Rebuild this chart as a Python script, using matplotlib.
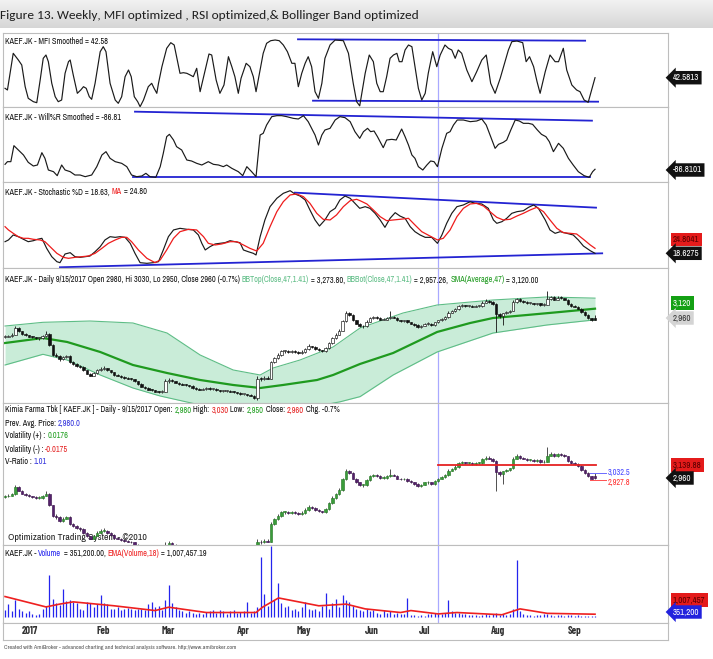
import numpy as np
import matplotlib.pyplot as plt
from matplotlib.colors import LinearSegmentedColormap

W, H = 713, 659
NARROW = ['Archivo Narrow', 'Roboto Condensed', 'DejaVu Sans']
BOLDN = ['Barlow Condensed', 'Roboto Condensed', 'DejaVu Sans']
plt.rcParams['font.family'] = NARROW
plt.rcParams['font.stretch'] = 'condensed'

# ---------------- data (daily bars, KAEF.JK, Dec 2016 - 15 Sep 2017) ----------------
month_names = ['2017', 'Feb', 'Mar', 'Apr', 'May', 'Jun', 'Jul', 'Aug', 'Sep']
month_pos = [7.3, 28.7, 47.8, 69.8, 87.7, 107.6, 122.9, 144.6, 166.9]
marker_bar = 127

opens = [2700, 2710, 2720, 2740, 2840, 2790, 2750, 2730, 2710, 2700,
         2690, 2690, 2720, 2750, 2590, 2440, 2430, 2380, 2410, 2430,
         2340, 2310, 2280, 2270, 2220, 2170, 2140, 2180, 2220, 2240,
         2250, 2220, 2190, 2150, 2140, 2120, 2110, 2100, 2090, 2060,
         2020, 1980, 1960, 1940, 1930, 1910, 1900, 1910, 2060, 2080,
         2060, 2040, 2020, 2010, 2000, 1990, 1960, 1950, 1940, 1950,
         1960, 1950, 1950, 1930, 1920, 1920, 1920, 1910, 1900, 1890,
         1870, 1870, 1860, 1850, 1820, 2100, 2090, 2110, 2100, 2340,
         2400, 2440, 2500, 2500, 2490, 2500, 2490, 2470, 2490, 2530,
         2570, 2560, 2530, 2510, 2500, 2540, 2620, 2690, 2740, 2800,
         2940, 3050, 3030, 2950, 2900, 2860, 2860, 2930, 2980, 3000,
         2990, 2960, 2960, 2980, 3000, 2990, 2950, 2940, 2950, 2920,
         2900, 2880, 2850, 2870, 2900, 2900, 2880, 2920, 2950, 2970,
         3000, 3060, 3080, 3110, 3160, 3170, 3160, 3160, 3150, 3160,
         3160, 3210, 3230, 3220, 3190, 3040, 3010, 3050, 3070, 3090,
         3220, 3260, 3230, 3220, 3200, 3200, 3190, 3200, 3170, 3180,
         3260, 3290, 3250, 3280, 3270, 3250, 3190, 3160, 3150, 3120,
         3070, 3030, 2980, 2980]
closes = [2710, 2720, 2740, 2840, 2790, 2750, 2730, 2710, 2700, 2690,
          2690, 2720, 2750, 2590, 2440, 2430, 2380, 2410, 2430, 2340,
          2310, 2280, 2270, 2220, 2170, 2140, 2180, 2220, 2240, 2250,
          2220, 2190, 2150, 2140, 2120, 2110, 2100, 2090, 2060, 2020,
          1980, 1960, 1940, 1930, 1910, 1900, 1910, 2060, 2080, 2060,
          2040, 2020, 2010, 2000, 1990, 1960, 1950, 1940, 1950, 1960,
          1950, 1950, 1930, 1920, 1920, 1920, 1910, 1900, 1890, 1870,
          1870, 1860, 1850, 1820, 2100, 2090, 2110, 2100, 2340, 2400,
          2440, 2500, 2500, 2490, 2500, 2490, 2470, 2490, 2530, 2570,
          2560, 2530, 2510, 2500, 2540, 2620, 2690, 2740, 2800, 2940,
          3050, 3030, 2950, 2900, 2860, 2860, 2930, 2980, 3000, 2990,
          2960, 2960, 2980, 3000, 2990, 2950, 2940, 2950, 2920, 2900,
          2880, 2850, 2870, 2900, 2900, 2880, 2920, 2950, 2970, 3000,
          3060, 3080, 3110, 3160, 3170, 3160, 3160, 3150, 3160, 3160,
          3210, 3230, 3220, 3190, 3040, 3010, 3050, 3070, 3090, 3220,
          3260, 3230, 3220, 3200, 3200, 3190, 3200, 3170, 3180, 3260,
          3290, 3250, 3280, 3270, 3250, 3190, 3160, 3150, 3120, 3070,
          3030, 2980, 2950, 2960]
highs = [2730, 2740, 2760, 2860, 2850, 2800, 2760, 2740, 2720, 2710,
         2710, 2730, 2790, 2760, 2600, 2470, 2440, 2430, 2450, 2440,
         2350, 2320, 2300, 2280, 2230, 2180, 2190, 2240, 2270, 2280,
         2260, 2230, 2200, 2160, 2150, 2130, 2120, 2110, 2100, 2070,
         2030, 1990, 1970, 1950, 1940, 1920, 1930, 2090, 2110, 2090,
         2070, 2050, 2030, 2020, 2010, 2000, 1970, 1960, 1960, 1980,
         1970, 1960, 1960, 1940, 1930, 1930, 1930, 1920, 1910, 1900,
         1880, 1880, 1870, 1860, 2130, 2120, 2140, 2130, 2360, 2420,
         2470, 2520, 2520, 2510, 2520, 2510, 2500, 2510, 2550, 2600,
         2580, 2570, 2540, 2520, 2560, 2640, 2710, 2760, 2830, 2960,
         3080, 3070, 3040, 2960, 2910, 2880, 2950, 3000, 3020, 3010,
         3000, 2980, 3000, 3080, 3010, 3000, 2960, 2960, 2960, 2930,
         2910, 2890, 2880, 2910, 2920, 2910, 2930, 2960, 2990, 3020,
         3080, 3100, 3130, 3180, 3190, 3180, 3170, 3170, 3170, 3180,
         3230, 3260, 3250, 3230, 3200, 3060, 3060, 3080, 3100, 3240,
         3280, 3270, 3240, 3230, 3220, 3210, 3210, 3210, 3200, 3380,
         3310, 3300, 3300, 3300, 3280, 3260, 3200, 3170, 3160, 3130,
         3080, 3040, 2990, 3030]
lows = [2690, 2700, 2710, 2730, 2780, 2740, 2720, 2700, 2690, 2680,
        2670, 2680, 2710, 2580, 2430, 2410, 2360, 2370, 2400, 2330,
        2300, 2270, 2250, 2210, 2160, 2130, 2130, 2170, 2210, 2230,
        2210, 2180, 2140, 2130, 2110, 2100, 2090, 2080, 2050, 2010,
        1970, 1950, 1930, 1920, 1900, 1890, 1890, 1900, 2040, 2050,
        2030, 2010, 2000, 1990, 1980, 1950, 1940, 1930, 1930, 1940,
        1940, 1940, 1920, 1910, 1910, 1910, 1900, 1890, 1880, 1860,
        1860, 1850, 1840, 1800, 1790, 2070, 2080, 2090, 2090, 2330,
        2390, 2430, 2480, 2480, 2480, 2470, 2460, 2460, 2480, 2520,
        2540, 2520, 2500, 2490, 2490, 2530, 2610, 2680, 2730, 2790,
        2930, 3010, 2940, 2890, 2850, 2840, 2850, 2920, 2970, 2970,
        2950, 2950, 2950, 2970, 2980, 2940, 2930, 2930, 2910, 2890,
        2870, 2840, 2840, 2860, 2880, 2870, 2870, 2910, 2940, 2960,
        2990, 3050, 3070, 3100, 3150, 3150, 3150, 3140, 3140, 3150,
        3150, 3200, 3210, 3180, 2780, 2990, 2880, 3040, 3060, 3080,
        3210, 3220, 3210, 3190, 3190, 3180, 3180, 3160, 3160, 3170,
        3250, 3240, 3240, 3260, 3240, 3180, 3150, 3140, 3110, 3060,
        3020, 2970, 2940, 2950]
volume_m = [2.5, 4.5, 2.0, 6.1, 3.0, 2.0, 1.5, 2.2, 1.0, 0.8,
            1.2, 3.0, 4.0, 15.1, 6.4, 5.0, 4.2, 10.0, 5.8, 6.0,
            5.5, 5.0, 3.0, 2.5, 5.5, 5.0, 3.5, 4.8, 8.0, 5.0,
            4.5, 3.0, 2.8, 3.5, 2.5, 3.0, 3.2, 2.8, 2.5, 3.0,
            2.8, 2.5, 4.5, 5.5, 3.5, 4.0, 2.5, 6.0, 11.3, 5.0,
            3.5, 2.5, 2.0, 1.5, 2.0, 1.5, 1.2, 1.5, 1.0, 1.8,
            2.0, 2.5, 1.5, 2.5, 2.0, 1.2, 2.0, 2.5, 1.5, 1.8,
            2.0, 5.5, 1.5, 2.0, 3.5, 21.3, 8.2, 4.0, 25.4, 6.0,
            12.1, 5.0, 3.5, 4.0, 2.5, 3.0, 2.0, 3.5, 5.5, 3.0,
            2.5, 3.0, 2.0, 4.0, 8.6, 3.0, 5.0, 6.5, 3.5, 8.0,
            6.0, 5.5, 4.0, 3.0, 2.5, 2.0, 3.0, 2.0, 2.5, 1.5,
            1.0, 2.5, 1.5, 2.0, 1.0, 1.5, 1.2, 1.0, 6.8, 0.8,
            0.6, 0.5, 0.8, 0.5, 1.2, 1.0, 1.5, 1.2, 1.0, 1.5,
            5.9, 2.0, 1.5, 1.5, 1.0, 1.2, 0.8, 0.6, 0.8, 0.5,
            0.8, 1.0, 0.8, 1.2, 1.5, 0.8, 1.0, 0.8, 1.0, 3.0,
            20.5, 2.0, 1.0, 0.8, 0.6, 0.5, 0.8, 0.6, 1.0, 1.2,
            0.8, 0.5, 0.6, 0.8, 0.5, 0.6, 0.8, 0.5, 0.6, 0.4,
            0.5, 0.4, 0.3, 0.35]
ema_x = [0, 12, 16, 20, 32, 44, 48, 59, 73.6, 75.5, 80.2, 84, 92, 100, 105.6,
         116, 119, 127, 132.5, 145.7, 151, 159, 173]
ema_v = [7.3, 3.6, 4.6, 5.4, 4.0, 2.3, 3.5, 1.6, 1.6, 3.5, 6.8, 5.9, 4.0, 4.6, 2.9,
         1.6, 2.3, 1.1, 1.6, 0.8, 2.9, 1.3, 1.0]

# Bollinger band (47, 1.41) and SMA 47
bbt_x = [0, 11.1, 24.9, 37.5, 47.5, 57.2, 66.9, 74.8, 78.6, 86.5, 96.2, 104.1,
         116.7, 126.7, 143.1, 158.9, 173]
bbt_v = [2867, 2921, 2940, 2911, 2765, 2444, 2225, 2152, 2254, 2371, 2561, 2838,
         3057, 3174, 3247, 3291, 3274]
bbb_x = [0, 11.1, 18.2, 27.9, 37.5, 45.5, 57.2, 74.8, 86.5, 98.2, 104.1, 113.8,
         126.7, 143.1, 158.9, 173]
bbb_v = [2298, 2454, 2371, 2152, 1962, 1845, 1714, 1612, 1650, 1760, 1836, 2152,
         2488, 2765, 2882, 2957]
sma_x = [0, 11.1, 18.2, 27.9, 37.5, 47.5, 57.2, 66.9, 74.8, 81.5, 91.5, 96.2,
         104.1, 113.8, 126.7, 136.4, 143.1, 153.1, 162.8, 173]
sma_v = [2619, 2692, 2634, 2488, 2298, 2181, 2079, 2006, 1962, 2006, 2079, 2152,
         2313, 2473, 2780, 2911, 2984, 3028, 3072, 3120]

mfi_x = [0, 0.7, 2.4, 3.9, 4.9, 5.9, 6.8, 8.3, 9.3, 10.3,
         11.2, 12.0, 12.7, 13.7, 14.7, 15.6, 16.6, 17.6, 18.6, 19.1,
         20.0, 21.2, 22.2, 23.0, 23.8, 24.7, 25.4, 26.4, 27.9, 28.8,
         29.6, 30.8, 32.3, 33.2, 34.2, 35.2, 36.2, 37.0, 37.9, 38.9,
         39.6, 40.6, 42.0, 43.0, 43.7, 44.5, 45.0, 46.0, 47.4, 48.6,
         49.6, 50.3, 51.3, 52.3, 53.3, 54.3, 55.2, 56.2, 57.2, 58.7,
         59.8, 60.6, 61.9, 63.0, 64.2, 65.5, 66.5, 67.4, 68.4, 69.2,
         70.7, 71.8, 72.8, 73.6, 74.8, 75.7, 76.7, 77.9, 79.2, 80.4,
         81.6, 82.8, 84.1, 85.0, 86.0, 87.0, 88.0, 88.9, 89.9, 90.9,
         91.9, 92.9, 93.8, 95.3, 96.8, 99.2, 100.7, 102.1, 103.1, 104.0,
         105.6, 106.8, 108.0, 109.0, 110.0, 110.9, 111.9, 112.9, 113.9, 114.9,
         115.6, 116.4, 117.3, 118.3, 119.3, 120.2, 121.2, 122.2, 123.2, 124.1,
         125.4, 126.6, 127.6, 129.0, 130.0, 131.0, 132.0, 132.9, 133.9, 135.4,
         136.9, 138.3, 139.8, 141.1, 142.4, 143.7, 145.2, 146.6, 147.6, 148.6,
         150.1, 151.8, 152.8, 153.8, 155.0, 156.0, 156.9, 158.4, 159.8, 161.3,
         162.3, 163.7, 164.7, 166.2, 167.6, 168.6, 169.8, 171.0, 172.0, 173.0]
mfi_v = [28.8, 26.6, 74.3, 65.6, 59.1, 30.9, 15.8, 11.4, 10.1, 39.6,
         67.8, 72.1, 63.4, 35.3, 17.9, 11.4, 13.6, 48.3, 63.4, 65.6,
         46.1, 22.3, 26.6, 30.9, 28.8, 17.9, 14.5, 35.3, 76.4, 82.9,
         76.4, 35.3, 13.6, 9.3, 17.9, 43.9, 52.6, 43.9, 17.9, 11.4,
         4.9, 13.6, 30.9, 35.3, 28.8, 22.3, 35.3, 56.9, 80.8, 88.1,
         85.1, 69.9, 48.3, 49.1, 48.3, 46.1, 43.9, 54.8, 24.4, 52.6,
         73.4, 72.1, 39.6, 22.3, 33.1, 69.9, 56.9, 43.9, 22.3, 41.8,
         61.3, 56.9, 43.9, 24.4, 52.6, 74.3, 87.3, 90.7, 91.6, 90.7,
         85.1, 76.4, 61.3, 61.3, 30.9, 48.3, 61.3, 69.9, 56.9, 24.4,
         15.8, 35.3, 67.8, 85.1, 91.6, 90.7, 74.3, 35.3, 11.4, 6.0,
         48.3, 72.1, 63.4, 35.3, 24.4, 24.4, 43.9, 67.8, 72.1, 74.3,
         63.4, 63.4, 78.6, 85.1, 82.9, 56.9, 28.8, 13.6, 22.3, 48.3,
         76.4, 56.9, 72.1, 85.1, 80.8, 78.6, 67.8, 78.6, 74.3, 52.6,
         37.4, 50.4, 65.6, 72.1, 35.3, 22.3, 41.8, 63.4, 78.6, 89.4,
         90.3, 88.1, 63.4, 69.9, 56.9, 37.4, 22.3, 50.4, 72.1, 63.4,
         63.4, 80.8, 52.6, 33.1, 26.6, 24.4, 13.6, 10.6, 26.6, 42.6]

willr_x = [0, 0.7, 1.7, 2.6, 3.9, 5.4, 6.8, 8.3, 9.5, 10.8,
           11.7, 12.7, 14.2, 15.3, 16.6, 17.6, 19.1, 20.5, 22.0, 23.5,
           25.4, 26.9, 28.4, 29.6, 30.8, 32.3, 34.2, 35.7, 37.1, 38.6,
           40.1, 41.3, 42.5, 44.2, 45.5, 46.4, 47.4, 48.2, 49.4, 50.3,
           51.8, 53.3, 54.7, 56.2, 57.7, 59.6, 61.1, 62.6, 64.0, 65.0,
           66.5, 68.4, 69.7, 70.9, 72.3, 73.6, 74.8, 75.7, 76.7, 78.2,
           79.7, 81.1, 82.6, 84.5, 86.0, 87.5, 88.9, 90.9, 91.9, 92.9,
           93.8, 95.3, 96.8, 98.2, 99.7, 101.2, 102.6, 104.0, 105.1, 106.3,
           107.2, 108.2, 109.2, 110.9, 111.9, 113.4, 114.7, 116.3, 117.3, 118.3,
           119.3, 120.2, 121.2, 122.5, 123.7, 124.8, 125.8, 126.8, 128.1, 129.5,
           130.5, 131.5, 132.6, 134.4, 136.4, 138.3, 139.8, 141.1, 142.4, 143.7,
           144.7, 146.1, 147.1, 148.3, 149.6, 150.8, 152.0, 153.5, 154.7, 156.1,
           157.3, 158.6, 159.6, 160.8, 162.3, 163.7, 165.2, 166.6, 168.1, 169.8,
           171.3, 172.3, 173.0]
willr_v = [-79.4, -75.4, -75.4, -51.4, -57.9, -65.4, -76.4, -81.9, -80.4, -61.9,
           -70.4, -87.9, -90.4, -96.4, -80.4, -87.9, -90.4, -95.4, -95.4, -97.9,
           -95.4, -82.9, -65.4, -60.4, -70.4, -75.4, -77.9, -82.9, -95.4, -97.9,
           -96.9, -92.9, -97.9, -98.9, -82.9, -62.9, -37.9, -34.4, -42.9, -52.9,
           -57.9, -72.9, -74.4, -77.9, -80.4, -75.4, -79.4, -80.4, -82.9, -80.4,
           -85.4, -90.4, -96.4, -82.9, -90.4, -97.9, -35.4, -32.9, -20.4, -7.9,
           -6.4, -6.4, -7.9, -10.4, -11.4, -6.4, -15.4, -35.4, -50.4, -35.4,
           -27.9, -25.4, -12.9, -7.9, -9.4, -15.4, -30.4, -40.4, -30.4, -25.4,
           -30.4, -29.4, -37.9, -54.4, -42.9, -41.9, -42.9, -26.4, -37.9, -50.4,
           -65.4, -70.4, -82.9, -87.9, -80.4, -74.4, -75.4, -82.9, -55.4, -32.9,
           -30.4, -20.4, -12.9, -12.9, -15.4, -14.4, -11.4, -20.4, -37.9, -55.4,
           -49.4, -46.4, -42.9, -27.9, -12.9, -14.4, -17.9, -17.9, -19.4, -27.9,
           -34.4, -37.9, -45.4, -60.4, -47.9, -55.4, -70.4, -80.4, -90.4, -96.4,
           -98.9, -90.4, -86.8]

stoch_x = [0, 1.0, 2.4, 3.9, 5.4, 6.8, 8.3, 9.5, 10.8, 12.2,
           13.7, 15.2, 16.1, 17.6, 19.1, 20.5, 22.0, 23.5, 24.9, 26.4,
           27.9, 29.3, 30.8, 32.3, 33.7, 35.2, 36.7, 38.1, 39.6, 41.6,
           43.5, 45.0, 46.4, 47.9, 49.4, 51.3, 53.3, 55.2, 56.7, 57.7,
           58.7, 60.1, 61.6, 63.0, 64.5, 66.0, 67.4, 68.9, 69.9, 71.3,
           72.8, 73.6, 74.8, 76.2, 77.7, 79.7, 81.6, 83.6, 85.0, 86.5,
           88.0, 89.4, 90.9, 92.2, 93.8, 95.3, 96.8, 98.2, 99.7, 101.2,
           102.6, 104.0, 105.6, 107.0, 108.5, 110.0, 111.4, 112.9, 114.4, 115.8,
           117.3, 118.8, 120.2, 121.7, 123.2, 125.1, 126.8, 128.1, 129.5, 131.0,
           132.5, 134.4, 136.4, 137.8, 139.8, 141.7, 143.2, 144.2, 145.7, 147.1,
           148.6, 150.1, 152.0, 153.5, 155.0, 156.4, 158.4, 159.8, 161.3, 162.8,
           164.7, 166.6, 168.1, 169.6, 171.6, 173.0]
stoch_v = [32.8, 34.9, 41.0, 38.9, 35.7, 32.8, 34.0, 35.7, 36.9, 24.7,
           14.5, 8.4, 7.2, 17.8, 19.4, 14.5, 13.7, 14.5, 15.3, 20.6,
           26.7, 34.9, 38.9, 38.1, 38.9, 38.1, 30.8, 18.6, 7.2, 6.4,
           7.2, 8.4, 22.7, 38.9, 47.1, 49.1, 47.9, 47.1, 41.0, 30.8,
           22.7, 26.7, 30.0, 30.8, 31.6, 34.0, 32.8, 31.6, 22.7, 20.6,
           18.6, 16.6, 38.9, 59.3, 75.5, 85.7, 91.8, 95.0, 91.0, 88.5,
           83.7, 71.5, 59.3, 51.9, 59.3, 69.4, 73.5, 83.7, 88.5, 85.7,
           79.6, 73.5, 75.5, 73.5, 67.4, 59.3, 50.3, 61.3, 68.2, 64.1,
           61.3, 51.1, 45.0, 41.0, 38.1, 38.1, 30.8, 41.0, 55.2, 67.4,
           75.5, 77.6, 81.6, 79.6, 78.8, 73.5, 59.3, 55.2, 57.2, 61.3,
           67.4, 69.4, 70.6, 74.7, 77.6, 73.5, 59.3, 47.1, 43.0, 45.0,
           43.0, 41.0, 34.9, 27.5, 21.8, 18.6]
stma_x = [0, 1.0, 2.4, 3.9, 5.4, 6.8, 8.3, 10.3, 11.7, 13.2,
          15.2, 17.1, 18.6, 20.5, 22.5, 24.4, 26.4, 28.4, 30.3, 32.3,
          34.2, 35.7, 37.1, 39.1, 41.6, 44.0, 45.5, 47.4, 49.4, 51.3,
          53.8, 56.2, 58.2, 59.6, 61.6, 63.5, 66.0, 67.9, 69.9, 71.8,
          73.8, 75.7, 77.7, 79.7, 81.6, 83.6, 85.5, 87.5, 89.4, 91.4,
          93.3, 95.3, 97.2, 99.2, 101.2, 103.1, 104.1, 106.1, 108.0, 110.0,
          111.9, 113.9, 115.8, 118.3, 120.2, 122.2, 124.6, 126.8, 128.5, 130.5,
          132.5, 134.4, 136.4, 138.3, 140.3, 142.2, 144.2, 146.1, 148.1, 150.1,
          152.0, 154.0, 155.9, 157.9, 159.8, 161.8, 163.7, 165.7, 167.6, 169.6,
          171.6, 173.0]
stma_v = [51.1, 47.1, 43.0, 38.9, 36.9, 36.9, 35.7, 34.9, 32.8, 26.7,
          18.6, 13.7, 12.5, 13.7, 14.5, 15.3, 18.6, 24.7, 30.8, 34.9,
          38.1, 38.1, 32.8, 22.7, 12.5, 7.2, 10.5, 22.7, 36.9, 45.0,
          47.9, 47.1, 38.9, 30.8, 28.8, 30.0, 32.8, 32.8, 28.8, 24.7,
          21.4, 30.8, 51.1, 69.4, 81.6, 89.8, 91.0, 87.7, 79.6, 67.4,
          60.1, 59.3, 65.4, 75.5, 82.8, 84.5, 82.8, 78.8, 71.5, 63.3,
          58.4, 59.3, 60.1, 61.3, 53.2, 45.0, 39.7, 34.9, 36.9, 47.1,
          63.3, 73.5, 78.8, 79.6, 76.3, 69.4, 62.5, 59.3, 60.1, 64.1,
          67.4, 71.5, 74.7, 69.4, 59.3, 49.1, 43.8, 43.0, 42.2, 35.7,
          28.8, 24.7]

# hand drawn trend lines (bar, value) end points
mfi_top_x, mfi_top_v = [85.9, 170.1], [92.5, 90.7]
mfi_bot_x, mfi_bot_v = [90.3, 173.9], [12.7, 11.4]
wr_top_x, wr_top_v = [38.1, 172.1], [-0.4, -13.9]
wr_bot_x, wr_bot_v = [37.5, 171.6], [-98.8, -98.8]
st_top_x, st_top_v = [85.0, 173.3], [92.6, 74.3]
st_bot_x, st_bot_v = [16.1, 175.1], [1.6, 18.6]
resist_x, resist_v = [127, 173.3], 3139.88
pivot_x, pivot_hi, pivot_lo = [171.6, 176.3], 3032.5, 2927.8

# ---------------- figure ----------------
fig = plt.figure(figsize=(W / 100, H / 100), dpi=100)
fig.patch.set_facecolor('white')
X0, X1 = 3, 668
XLIM = (-0.6, 194.4)
renderer = fig.canvas.get_renderer()


def fy(y):
    return 1 - y / H


def text_width(s, size, family=NARROW, weight='normal'):
    a = fig.text(0, 0, '|' + s + '|', fontsize=size, family=family, fontweight=weight)
    b = fig.text(0, 0, '||', fontsize=size, family=family, fontweight=weight)
    w = a.get_window_extent(renderer).width - b.get_window_extent(renderer).width
    a.remove()
    b.remove()
    return w


# font size so that the longest header is as wide as in the reference (532 px)
HDR4 = ('KAEF.JK - Daily 9/15/2017 Open 2980, Hi 3030, Lo 2950, Close 2960 (-0.7%) '
        'BBTop(Close,47,1.41) = 3,273.80, BBBot(Close,47,1.41) = 2,957.26, '
        'SMA(Average,47) = 3,120.00')
FS = min(7.5, 6.0 * 532 / text_width(HDR4, 6.0))


def panel(y0, y1, ylim):
    ax = fig.add_axes([X0 / W, 1 - y1 / H, (X1 - X0) / W, (y1 - y0) / H])
    ax.set_xlim(*XLIM)
    ax.set_ylim(*ylim)
    ax.set_xticks([])
    ax.set_yticks([])
    for s in ax.spines.values():
        s.set_color('#bdbdbd')
        s.set_linewidth(0.8)
    ax.axvline(marker_bar, color='#a9a9ff', lw=0.9, zorder=1)
    return ax


def rich(x, y, parts, size=None):
    size = size or FS
    for s, c in parts:
        fig.text(x / W, fy(y), s, color=c, fontsize=size, va='center', ha='left')
        x += text_width(s, size)


def tag(y, s, fc, tc, arrow=True):
    style = 'larrow,pad=0.25' if arrow else 'square,pad=0.25'
    fig.text(673 / W, fy(y), s, fontsize=FS * 1.08, color=tc, va='center', ha='left',
             bbox=dict(boxstyle=style, fc=fc, ec='none'))


def candles(ax, up_fc, up_ec, dn_fc, dn_ec, wick, minh):
    i = np.arange(len(closes))
    o, c = np.array(opens), np.array(closes)
    ax.vlines(i, lows, highs, color=wick, lw=0.6, zorder=3)
    lo = np.minimum(o, c)
    hgt = np.maximum(np.abs(c - o), minh)
    up = c >= o
    ax.bar(i[up], hgt[up], bottom=lo[up], width=0.72, color=up_fc, edgecolor=up_ec,
           lw=0.45, zorder=4)
    ax.bar(i[~up], hgt[~up], bottom=lo[~up], width=0.72, color=dn_fc, edgecolor=dn_ec,
           lw=0.45, zorder=4)


BLUE_TL = '#2323d2'

# title band
tax = fig.add_axes([0, fy(28), 1, 28 / H])
grad = LinearSegmentedColormap.from_list('g', ['#f2f2f2', '#d6d6d6'])
tax.imshow(np.linspace(0, 1, 40).reshape(-1, 1), cmap=grad, aspect='auto')
tax.axis('off')
title = 'Figure 13. Weekly, MFI optimized , RSI optimized,& Bollinger Band optimized'
TFONT = ['Carlito', 'Lato', 'DejaVu Sans']
tsize = 10 * 421 / text_width(title, 10, family=TFONT)
fig.text(0.5 / W, fy(15.5), title, fontsize=tsize, family=TFONT, fontstretch='normal',
         color='#1e1e1e', va='center', ha='left')

# panel 1: MFI
ax1 = panel(33, 107, (4.5, 100.7))
ax1.plot(mfi_x, mfi_v, color='#1a1a1a', lw=0.85, zorder=3)
ax1.plot(mfi_top_x, mfi_top_v, color=BLUE_TL, lw=1.3)
ax1.plot(mfi_bot_x, mfi_bot_v, color=BLUE_TL, lw=1.3)
rich(5, 41, [('KAEF.JK - MFI Smoothed = 42.58', '#111111')])
tag(77.7, '42.5813', '#111111', 'white')

# panel 2: Williams %R
ax2 = panel(107, 182, (-105.9, 6.6))
ax2.plot(willr_x, willr_v, color='#1a1a1a', lw=0.85, zorder=3)
ax2.plot(wr_top_x, wr_top_v, color=BLUE_TL, lw=1.3)
ax2.plot(wr_bot_x, wr_bot_v, color=BLUE_TL, lw=1.3)
rich(5, 117, [('KAEF.JK - Will%R Smoothed = -86.81', '#111111')])
tag(170, '-86.8101', '#111111', 'white')

# panel 3: Stochastic
ax3 = panel(182, 268, (0.7, 105.6))
ax3.plot(stoch_x, stoch_v, color='#1a1a1a', lw=0.85, zorder=3)
ax3.plot(stma_x, stma_v, color='#ee1c1c', lw=0.9, zorder=3)
ax3.plot(st_top_x, st_top_v, color=BLUE_TL, lw=1.3)
ax3.plot(st_bot_x, st_bot_v, color=BLUE_TL, lw=1.3)
rich(5, 192, [('KAEF.JK - Stochastic %D = 18.63, ', '#111111'), ('MA', '#ee1c1c'),
              (' = 24.80', '#111111')])
tag(239.5, '24.8041', '#e41b1b', '#5a0000', arrow=False)
tag(253.3, '18.6275', '#111111', 'white')

# panel 4: Bollinger bands
ax4 = panel(268, 403, (1743, 3714))
bx = np.union1d(bbt_x, bbb_x)
ax4.fill_between(bx, np.interp(bx, bbb_x, bbb_v), np.interp(bx, bbt_x, bbt_v),
                 color='#c9ecd8', lw=0, zorder=1)
ax4.plot(bbt_x, bbt_v, color='#5ebd86', lw=0.8, zorder=2)
ax4.plot(bbb_x, bbb_v, color='#5ebd86', lw=0.8, zorder=2)
ax4.plot(sma_x, sma_v, color='#1f9a1f', lw=1.6, zorder=2)
candles(ax4, 'white', '#111111', '#111111', '#111111', '#111111', 14)
rich(5, 280, [('KAEF.JK - Daily 9/15/2017 Open 2980, Hi 3030, Lo 2950, Close 2960 (-0.7%) ', '#111111'),
              ('BBTop(Close,47,1.41)', '#5ebd86'), (' = 3,273.80, ', '#111111'),
              ('BBBot(Close,47,1.41)', '#5ebd86'), (' = 2,957.26, ', '#111111'),
              ('SMA(Average,47)', '#1f9a1f'), (' = 3,120.00', '#111111')])
tag(303, '3,120', '#14a014', 'white', arrow=False)
tag(318, '2,960', '#d4d4d4', '#333333')

# panel 5: price candles
ax5 = panel(403, 545, (2055, 3972))
ax5.text(1.0, 2150, 'Optimization Trading System - ©2010', fontsize=FS * 1.2, color='#222222',
         va='center', ha='left', zorder=2)
candles(ax5, '#3a9c3a', '#2c7a2c', '#55216b', '#3d1450', '#333333', 12)
ax5.plot(resist_x, [resist_v, resist_v], color='#e52222', lw=1.3, zorder=5)
ax5.plot(pivot_x, [pivot_hi, pivot_hi], color='#6b6bff', lw=0.7, zorder=5)
ax5.plot(pivot_x, [pivot_lo, pivot_lo], color='#ff5050', lw=0.7, zorder=5)
ax5.text(176.8, pivot_hi, '3,032.5', fontsize=FS, color='#4848ff', va='center', ha='left')
ax5.text(176.8, pivot_lo - 25, '2,927.8', fontsize=FS, color='#ff3030', va='center', ha='left')
rich(5, 410, [('Kimia Farma Tbk [ KAEF.JK ] - Daily - 9/15/2017 Open: ', '#111111'),
              ('2,980', '#22a022'), (' High: ', '#111111'), ('3,030', '#e52222'),
              (' Low: ', '#111111'), ('2,950', '#22a022'), (' Close: ', '#111111'),
              ('2,960', '#e52222'), (' Chg. -0.7%', '#111111')])
rich(5, 423, [('Prev. Avg. Price: ', '#111111'), ('2,980.0', '#3333dd')])
rich(5, 436, [('Volatility (+) : ', '#111111'), ('0.0176', '#22a022')])
rich(5, 449, [('Volatility (-) : ', '#111111'), ('-0.0175', '#e52222')])
rich(5, 462, [('V-Ratio : ', '#111111'), ('1.01', '#3333dd')])
tag(465, '3,139.88', '#e41b1b', '#5a0000', arrow=False)
tag(478, '2,960', '#111111', 'white')

# panel 6: volume
ax6 = panel(545, 623, (-2.14, 25.7))
ax6.vlines(np.arange(len(volume_m)), 0, volume_m, color='#2424ee', lw=0.9, zorder=2)
ax6.plot(ema_x, ema_v, color='#ee2020', lw=1.2, zorder=3)
rich(5, 553, [('KAEF.JK - ', '#111111'), ('Volume', '#2424ee'), (' = 351,200.00, ', '#111111'),
              ('EMA(Volume,18)', '#ee2020'), (' = 1,007,457.19', '#111111')])
tag(600, '1,007,457', '#e41b1b', '#5a0000', arrow=False)
tag(612, '351,200', '#2222dd', 'white')

# date strip
axd = fig.add_axes([X0 / W, fy(640), (X1 - X0) / W, 17 / H])
axd.set_xlim(*XLIM)
axd.set_ylim(0, 1)
axd.set_xticks([])
axd.set_yticks([])
for s in axd.spines.values():
    s.set_color('#bdbdbd')
    s.set_linewidth(0.8)
for p, m in zip(month_pos, month_names):
    axd.text(p, 0.5, m, fontsize=FS * 1.25, fontweight='bold', family=BOLDN,
             color='#333333', ha='center', va='center')

fig.text(4 / W, fy(648), 'Created with AmiBroker - advanced charting and technical analysis software. '
         'http://www.amibroker.com', fontsize=FS * 0.74, color='#555555', va='center', ha='left')

fig.savefig('out.png', dpi=100)
